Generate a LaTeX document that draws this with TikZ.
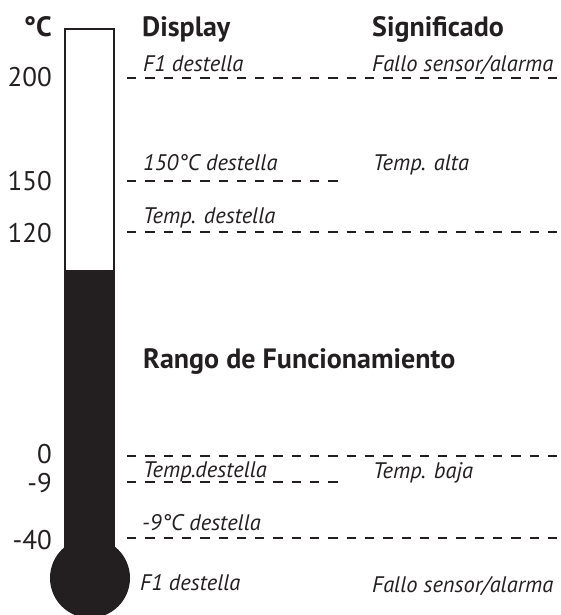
\documentclass[tikz,border=0pt]{standalone}
\usepackage{fontspec}
\setmainfont{PT Sans}
\usepackage{xcolor}
\usetikzlibrary{positioning}
\definecolor{inkdark}{HTML}{231F20}

\begin{document}
\begin{tikzpicture}[x=1pt,y=-1pt,color=inkdark]

\tikzset{
hd/.style={
    anchor=base west,
    inner sep=0pt,
    font=\fontsize{28}{32}\selectfont\bfseries
},
num/.style={
    anchor=base east,
    inner sep=0pt,
    font=\fontsize{27}{30}\selectfont
},
lbl/.style={
    anchor=base west,
    inner sep=0pt,
    font=\fontsize{22.5}{26}\selectfont\itshape
},
lvl/.style={line width=2.5pt,dash pattern=on 9.3pt off 9pt}
}

\useasboundingbox (0,0) rectangle (561,615);

\begin{scope}
\clip (0,0) rectangle (561,615);
\fill[white] (65,29) rectangle (114,270);
\fill (64,270) rectangle (115,560);
\fill (90,578) circle (40);
\draw[line width=2pt] (65,270) -- (65,29) -- (114,29) -- (114,270);
\end{scope}

\node[num,font=\fontsize{28}{32}\selectfont\bfseries] (unit) at (52,37) {°C};
\node[hd] (hdisp) at (142,37) {Display};
\node[hd] (hsig) at (372,37) {Significado};

\node[num] (t200) at (52,87) {200};
\node[num] (t150) at (52,190) {150};
\node[num] (t120) at (52,242) {120};
\node[num] (t0) at (52,463) {0};
\node[num] (tm9) at (52,492) {-9};
\node[num] (tm40) at (52,549) {-40};

\node[lbl] (d200) at (143,72) {F1 destella};
\node[lbl] (s200) at (372,72) {Fallo sensor/alarma};
\node[lbl] (d150) at (143,170) {150°C destella};
\node[lbl] (s150) at (373,170) {Temp. alta};
\node[lbl] (d120) at (143,223) {Temp. destella};
\node[hd] (rango) at (143,368) {Rango de Funcionamiento};
\node[lbl] (d0) at (143,477) {Temp.destella};
\node[lbl] (s0) at (373,478) {Temp. baja};
\node[lbl] (dm9) at (142,530) {-9°C destella};
\node[lbl] (dm40) at (140,590) {F1 destella};
\node[lbl] (sm40) at (372,592) {Fallo sensor/alarma};

\coordinate (a200) at (127,78);   \coordinate (b200) at (561,78);
\coordinate (a150) at (127,181);  \coordinate (b150) at (342,181);
\coordinate (a120) at (127,232);  \coordinate (b120) at (561,232);
\coordinate (a0) at (127,456);    \coordinate (b0) at (561,456);
\coordinate (am9) at (127,482);   \coordinate (bm9) at (342,482);
\coordinate (am40) at (127,538);  \coordinate (bm40) at (561,538);

\draw[lvl] (a200) -- (b200);
\draw[lvl] (a150) -- (b150);
\draw[lvl] (a120) -- (b120);
\draw[lvl] (a0) -- (b0);
\draw[lvl] (am9) -- (bm9);
\draw[lvl] (am40) -- (bm40);

\end{tikzpicture}
\end{document}
